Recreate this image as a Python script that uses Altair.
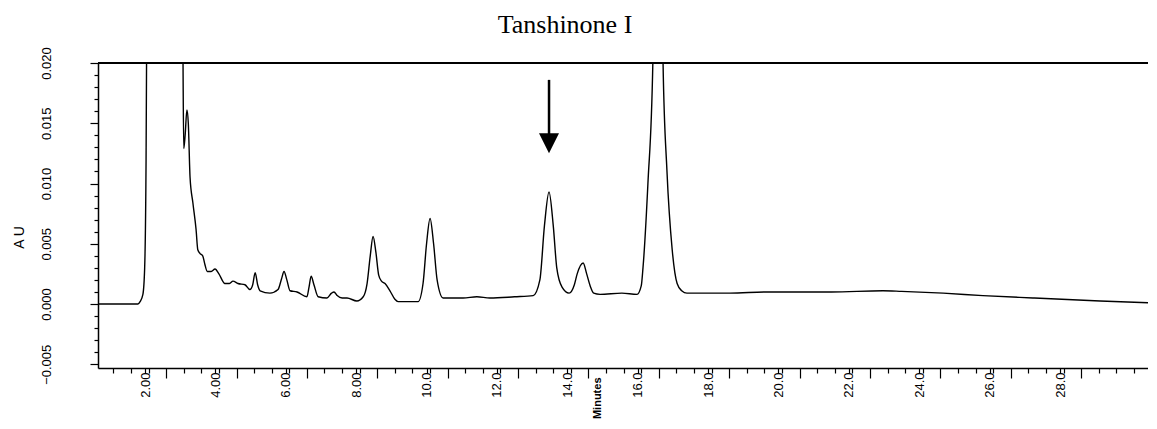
import altair as alt
import pandas as pd

# chromatogram trace (retention time in minutes, absorbance in AU)
t_min = [0.66, 1.50, 1.80, 1.86, 1.94, 1.99, 2.03, 2.06, 2.10, 2.50, 3.00, 3.06, 3.08,
         3.10, 3.14, 3.19, 3.23, 3.28, 3.36, 3.45, 3.50, 3.56, 3.64, 3.70, 3.77, 3.88,
         3.99, 4.10, 4.27, 4.40, 4.50, 4.64, 4.84, 4.98, 5.06, 5.13, 5.20, 5.27, 5.55,
         5.78, 5.88, 5.95, 6.03, 6.12, 6.32, 6.60, 6.66, 6.72, 6.80, 6.92, 7.17, 7.30,
         7.37, 7.46, 7.60, 7.74, 8.02, 8.20, 8.31, 8.40, 8.48, 8.56, 8.64, 8.72, 8.82,
         8.96, 9.10, 9.19, 9.76, 9.90, 10.00, 10.10, 10.20, 10.30, 10.47, 11.04, 11.43,
         11.80, 12.50, 13.03, 13.22, 13.35, 13.48, 13.60, 13.70, 13.85, 14.05, 14.20,
         14.28, 14.45, 14.55, 14.65, 14.75, 14.93, 15.55, 15.98, 16.10, 16.15, 16.29,
         16.43, 16.55, 16.65, 16.72, 16.83, 16.98, 17.12, 17.25, 17.40, 18.62, 19.68,
         21.50, 22.97, 23.50, 24.68, 25.81, 27.23, 29.14, 30.50]
au = [0.0, 0.0, 0.0, 0.0002, 0.0008, 0.003, 0.012, 0.030, 0.060, 0.080, 0.060, 0.030, 0.020,
      0.0129, 0.0140, 0.0161, 0.0150, 0.0105, 0.0084, 0.0062, 0.0045, 0.0042, 0.0040, 0.0033, 0.0027, 0.0027,
      0.0029, 0.0025, 0.0017, 0.0017, 0.0019, 0.0017, 0.0016, 0.0012, 0.0016, 0.0026, 0.0016, 0.0011, 0.0009,
      0.0012, 0.0021, 0.0027, 0.0020, 0.0011, 0.0010, 0.0006, 0.0014, 0.0023, 0.0016, 0.0006, 0.0005, 0.0009,
      0.0010, 0.0007, 0.0005, 0.0005, 0.00025, 0.0006, 0.0017, 0.0040, 0.0056, 0.0043, 0.0024, 0.0019, 0.0017,
      0.0011, 0.0004, 0.0002, 0.0002, 0.0017, 0.0050, 0.0071, 0.0050, 0.0020, 0.0005, 0.0005, 0.0006,
      0.0005, 0.0006, 0.0007, 0.0020, 0.0065, 0.0093, 0.0065, 0.0030, 0.0014, 0.0009, 0.0016,
      0.0025, 0.0034, 0.0025, 0.0015, 0.0009, 0.0008, 0.0009, 0.0008, 0.0015, 0.0030, 0.0100,
      0.0200, 0.045, 0.045, 0.0200, 0.0111, 0.0045, 0.0017, 0.0011, 0.0009, 0.0009, 0.0010,
      0.0010, 0.0011, 0.00105, 0.0009, 0.0007, 0.0005, 0.00025, 0.0001]

# arrow marking the Tanshinone I peak
arrow_t = [13.48]
arrow_top = [0.0186]
arrow_bottom = [0.0138]
arrow_head = [0.01335]

x_labels = [2, 4, 6, 8, 10, 12, 14, 16, 18, 20, 22, 24, 26, 28]
x_minor = [round(1.1 + 0.5 * k, 2) for k in range(59)]
y_ticks = [round(-0.005 + 0.001 * k, 3) for k in range(26)]

X_DOMAIN = [0.664, 30.5]
Y_DOMAIN = [-0.00531, 0.020]

trace = pd.DataFrame({"t": t_min, "au": au})
arrow = pd.DataFrame({"t": arrow_t, "top": arrow_top, "bottom": arrow_bottom, "head": arrow_head})

x_scale = alt.Scale(domain=X_DOMAIN, nice=False, zero=False)
y_scale = alt.Scale(domain=Y_DOMAIN, nice=False, zero=False)

x_axis = alt.Axis(
    values=sorted(set(x_labels + x_minor)),
    tickCount=500,
    labelExpr="abs(datum.value/2 - round(datum.value/2)) < 0.01 ? (datum.value < 10 ? format(datum.value, '.2f') : format(datum.value, '.1f')) : ''",
    labelAngle=270, labelAlign="right", labelBaseline="middle",
    labelFont="Liberation Sans", labelFontSize=13, labelColor="black",
    labelPadding=-1, labelOverlap=False, labelFlush=False,
    tickSize={"condition": {"test": "abs((datum.value-0.6)/2 - round((datum.value-0.6)/2)) < 0.01", "value": 10}, "value": 5},
    tickColor="black", tickWidth=1.2,
    domainColor="black", domainWidth=1.5,
    grid=False,
    title="Minutes", titleAngle=270, titleAlign="right", titleBaseline="middle",
    titleX=499, titleY=9, titleFont="Liberation Sans", titleFontSize=11,
    titleFontWeight="bold", titleColor="black",
)

y_axis = alt.Axis(
    values=y_ticks,
    tickCount=500,
    labelExpr="abs(datum.value*200 - round(datum.value*200)) < 0.01 ? format(datum.value, '.3f') : ''",
    labelAngle=270, labelAlign="center", labelBaseline="bottom",
    labelFont="Liberation Sans", labelFontSize=13, labelColor="black",
    labelPadding=37, labelOverlap=False, labelFlush=False,
    tickSize={"condition": {"test": "abs(datum.value*200 - round(datum.value*200)) < 0.01", "value": 8}, "value": 4},
    tickColor="black", tickWidth=1.2,
    domainColor="black", domainWidth=1.5,
    grid=False,
    title="A U", titleAngle=270, titleAlign="center", titleBaseline="middle",
    titleX=-79, titleY=174, titleFont="Liberation Sans", titleFontSize=14,
    titleColor="black", titleFontWeight="normal",
)

line = alt.Chart(trace).mark_line(color="black", strokeWidth=1.4, interpolate="monotone", clip=True).encode(
    x=alt.X("t:Q", scale=x_scale, axis=x_axis),
    y=alt.Y("au:Q", scale=y_scale, axis=y_axis),
)

top_rule = alt.Chart(trace).mark_rule(color="black", strokeWidth=1.5).encode(
    y=alt.datum(Y_DOMAIN[1], scale=y_scale),
)

shaft = alt.Chart(arrow).mark_rule(color="black", strokeWidth=2.5).encode(
    x=alt.X("t:Q", scale=x_scale),
    y=alt.Y("top:Q", scale=y_scale),
    y2="bottom:Q",
)

head = alt.Chart(arrow).mark_point(shape="M-1,-1L1,-1L0,1Z", filled=True, color="black", size=400, opacity=1).encode(
    x=alt.X("t:Q", scale=x_scale),
    y=alt.Y("head:Q", scale=y_scale),
)

chart = alt.layer(line, top_rule, shaft, head).properties(
    width=1050,
    height=305,
    autosize=alt.AutoSizeParams(type="none"),
    padding={"left": 90, "top": 55, "right": 0, "bottom": 53},
    title=alt.TitleParams(
        "Tanshinone I", font="Liberation Serif", fontSize=26, fontWeight="normal",
        color="black", anchor="middle", frame="group", dx=-58, offset=9,
    ),
).configure_view(stroke=None).configure(background="white")

chart.save("out.html", embed_options={"renderer": "svg", "actions": False})
